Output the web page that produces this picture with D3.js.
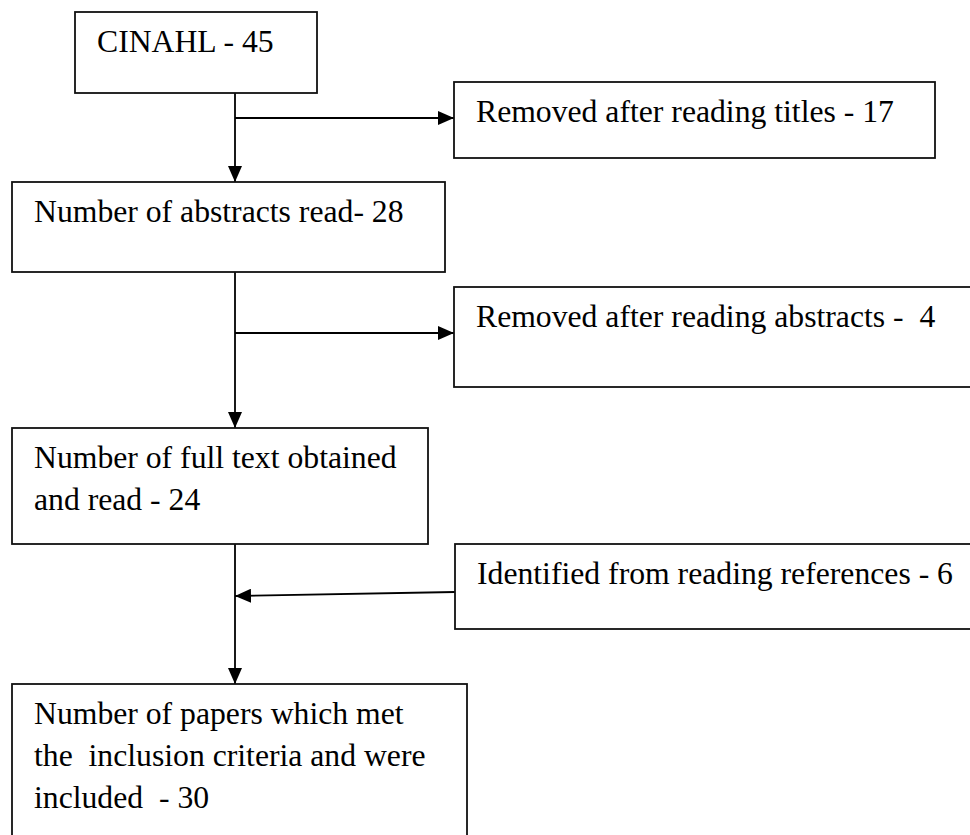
<!DOCTYPE html>
<html>
<head>
<meta charset="utf-8">
<script src="https://cdn.jsdelivr.net/npm/d3@7"></script>
<style>
    body { margin: 0; background: #fff; }
    svg { display: block; }
</style>
</head>
<body>
<div id="chart"></div>
<script>
// flow counts, main column then side boxes
const stageCounts = [45, 28, 24, 30];
const stageLabels = [
    ["CINAHL - " + stageCounts[0]],
    ["Number of abstracts read- " + stageCounts[1]],
    ["Number of full text obtained", "and read - " + stageCounts[2]],
    ["Number of papers which met", "the  inclusion criteria and were", "included  - " + stageCounts[3]]
];
const sideCounts = [17, 4, 6];
const sideLabels = [
    ["Removed after reading titles - " + sideCounts[0]],
    ["Removed after reading abstracts -  " + sideCounts[1]],
    ["Identified from reading references - " + sideCounts[2]]
];
const sideDirection = ["out", "out", "in"];

// layout (pixels)
const width = 970;
const height = 835;
const spineX = 235;
const stageBoxes = [
    { x: 75, y: 12, w: 242, h: 81 },
    { x: 12, y: 182, w: 433, h: 90 },
    { x: 12, y: 428, w: 416, h: 116 },
    { x: 12, y: 684, w: 455, h: 180 }
];
const sideBoxes = [
    { x: 454, y: 82, w: 481, h: 76, arrowY: 118 },
    { x: 454, y: 287, w: 540, h: 100, arrowY: 333 },
    { x: 455, y: 544, w: 540, h: 85, arrowY: 592, tipY: 596 }
];
const padLeft = 22;
const firstLine = 40;
const lineHeight = 42;
const fontFamily = "'Liberation Serif', Tinos, 'Times New Roman', 'DejaVu Serif', serif";

const svg = d3.select("#chart")
    .append("svg")
    .attr("width", width)
    .attr("height", height);

svg.append("defs")
    .append("marker")
    .attr("id", "head")
    .attr("markerUnits", "userSpaceOnUse")
    .attr("viewBox", "0 0 16 14")
    .attr("refX", 16)
    .attr("refY", 7)
    .attr("markerWidth", 16)
    .attr("markerHeight", 14)
    .attr("orient", "auto")
    .append("path")
    .attr("d", "M0,0L16,7L0,14Z")
    .attr("fill", "#000");

function drawBoxes(boxes, labels, cls) {
    const g = svg.selectAll("g." + cls)
        .data(boxes.map((b, i) => ({ box: b, lines: labels[i] })))
        .enter()
        .append("g")
        .attr("class", cls)
        .attr("transform", d => "translate(" + d.box.x + "," + d.box.y + ")");

    g.append("rect")
        .attr("width", d => d.box.w)
        .attr("height", d => d.box.h)
        .attr("fill", "#fff")
        .attr("stroke", "#111")
        .attr("stroke-width", 1.8);

    g.selectAll("text")
        .data(d => d.lines)
        .enter()
        .append("text")
        .attr("x", padLeft)
        .attr("y", (d, i) => firstLine + i * lineHeight)
        .attr("font-family", fontFamily)
        .attr("font-size", 31.7)
        .attr("fill", "#000")
        .style("white-space", "pre")
        .text(d => d);
}

// connectors first so boxes sit on top
const links = svg.append("g")
    .attr("stroke", "#000")
    .attr("stroke-width", 1.8)
    .attr("fill", "none");

// down arrows along the spine
links.selectAll("line.down")
    .data(d3.pairs(stageBoxes))
    .enter()
    .append("line")
    .attr("class", "down")
    .attr("x1", spineX)
    .attr("y1", d => d[0].y + d[0].h)
    .attr("x2", spineX)
    .attr("y2", d => d[1].y)
    .attr("marker-end", "url(#head)");

// side arrows, out to the right or back in to the spine
links.selectAll("line.side")
    .data(sideBoxes.map((b, i) => ({ box: b, dir: sideDirection[i] })))
    .enter()
    .append("line")
    .attr("class", "side")
    .attr("x1", d => d.dir === "out" ? spineX : d.box.x)
    .attr("y1", d => d.box.arrowY)
    .attr("x2", d => d.dir === "out" ? d.box.x : spineX)
    .attr("y2", d => d.dir === "out" ? d.box.arrowY : d.box.tipY)
    .attr("marker-end", "url(#head)");

drawBoxes(stageBoxes, stageLabels, "stage");
drawBoxes(sideBoxes, sideLabels, "side");
</script>
</body>
</html>
